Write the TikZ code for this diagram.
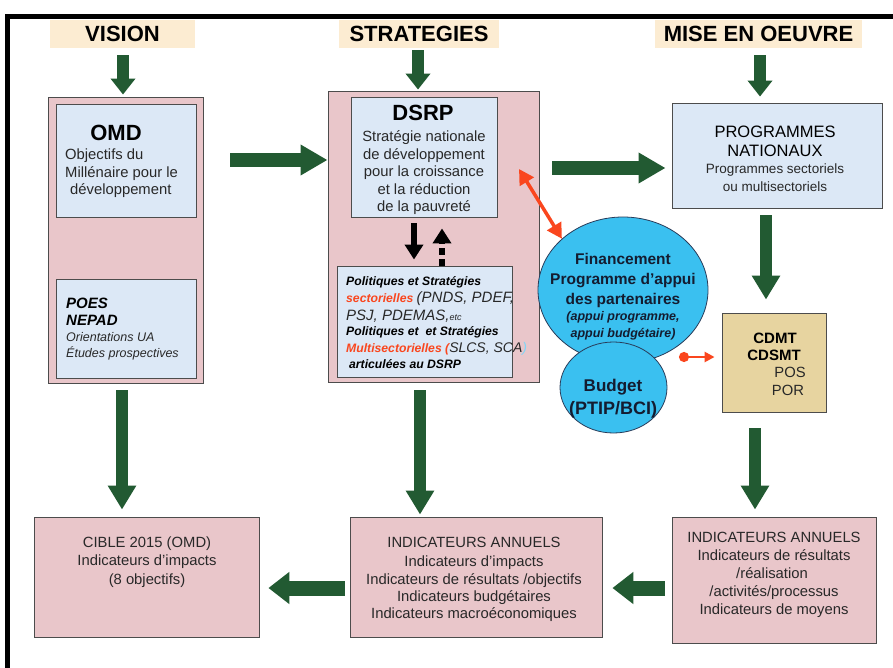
\documentclass[tikz,border=0pt]{standalone}
\usepackage{fontspec}
\setmainfont{Liberation Sans}
\usetikzlibrary{arrows.meta,shapes.geometric,calc}
\definecolor{pinkbox}{RGB}{233,198,202}
\definecolor{bluebox}{RGB}{220,232,246}
\definecolor{cream}{RGB}{252,236,210}
\definecolor{tanbox}{RGB}{231,212,160}
\definecolor{cyanc}{RGB}{58,192,240}
\definecolor{circedge}{RGB}{40,60,90}
\definecolor{garrow}{RGB}{34,90,50}
\definecolor{redc}{RGB}{250,70,30}
\definecolor{txt}{RGB}{40,40,40}
\definecolor{navy}{RGB}{20,28,48}
\newcommand{\myfs}[2]{\fontsize{#1}{#2}\selectfont}
\newcommand{\polbi}{\bfseries\itshape\myfs{12.2}{15}}
\newcommand{\polit}{\mdseries\itshape\myfs{15}{17}}
\newcommand{\politb}{\mdseries\itshape\myfs{14}{17}}
\newcommand{\finf}{\bfseries\myfs{15.5}{18}}
\newcommand{\finit}{\bfseries\itshape\myfs{12.5}{15}}
\tikzset{
 box/.style={draw=black!70, line width=0.9pt, inner sep=0pt, rectangle},
 pinkb/.style={box, fill=pinkbox},
 blueb/.style={box, fill=bluebox},
 tanb/.style={box, fill=tanbox},
 circ/.style={ellipse, draw=circedge, line width=0.8pt, fill=cyanc, inner sep=0pt},
 hdr/.style={fill=cream, inner sep=0pt, font=\bfseries\myfs{22}{24}, text=black},
 ln/.style={inner sep=0pt, anchor=base, text=txt, font=\myfs{14.8}{18}},
 lnw/.style={ln, anchor=base west},
 garrv/.style={draw=garrow, line width=12pt, -{Triangle[width=24pt,length=16pt]}},
 garrv2/.style={draw=garrow, line width=12pt, -{Triangle[width=27pt,length=24pt]}},
 garrh/.style={draw=garrow, line width=14pt, -{Triangle[width=29pt,length=27pt]}},
 garrl/.style={draw=garrow, line width=15pt, -{Triangle[width=31pt,length=21pt]}},
 barr/.style={draw=black, line width=6pt, -{Triangle[width=18pt,length=15pt]}},
}
\begin{document}
\begin{tikzpicture}[x=1pt,y=-1pt]
\useasboundingbox (0,0) rectangle (893,668);
\fill[white] (0,0) rectangle (893,668);
\fill[black] (5,14) rectangle (893,19);
\fill[black] (5,14) rectangle (10,668);

% headers
\node[hdr, minimum width=145pt, minimum height=28pt] (hv) at (122.5,34) {VISION};
\node[hdr, minimum width=160pt, minimum height=28pt] (hs) at (419,34) {STRATEGIES};
\node[hdr, minimum width=207pt, minimum height=28pt] (hm) at (758.5,34) {MISE EN OEUVRE};

% boxes
\node[pinkb, minimum width=155pt, minimum height=286pt] (vis) at (125.5,240) {};
\node[blueb, minimum width=140pt, minimum height=113pt] (omd) at (126.5,160.5) {};
\node[blueb, minimum width=140pt, minimum height=99pt] (poes) at (126.5,328.5) {};
\node[pinkb, minimum width=211pt, minimum height=291pt] (dsrpo) at (433.5,236.5) {};
\node[blueb, minimum width=146pt, minimum height=120pt] (dsrp) at (424,157) {};
\node[blueb, minimum width=175pt, minimum height=111pt] (pol) at (424.5,321.5) {};
\node[blueb, minimum width=210pt, minimum height=105pt] (prog) at (777,155.5) {};
\node[tanb, minimum width=104pt, minimum height=99pt] (cdmt) at (774,362.5) {};
\node[pinkb, minimum width=225pt, minimum height=120pt] (cible) at (146.5,577) {};
\node[pinkb, minimum width=252pt, minimum height=120pt] (mid) at (476,577) {};
\node[pinkb, minimum width=204pt, minimum height=126pt] (rgt) at (774,580) {};
\node[circ, minimum width=170pt, minimum height=146pt] (fin) at (623,290) {};
\node[circ, minimum width=107pt, minimum height=91pt] (bud) at (613.5,387.5) {};

% helper coordinates
\coordinate (xa) at (123,0);
\coordinate (xb) at (418,0);
\coordinate (xc) at (760,0);
\coordinate (xd) at (766,0);
\coordinate (xe) at (122,0);
\coordinate (xf) at (420,0);
\coordinate (xg) at (755,0);
\coordinate (xk) at (414,0);
\coordinate (xl) at (442,0);
\coordinate (ya) at (0,160);
\coordinate (yb) at (0,168);
\coordinate (yc) at (0,588);
\coordinate (ra) at (519,169);
\coordinate (rdot) at (679,357);

% green arrows
\draw[garrv, shorten <=7pt, shorten >=2pt] (xa |- hv.south) -- (xa |- vis.north);
\draw[garrv, shorten <=2pt, shorten >=1pt] (xb |- hs.south) -- (xb |- dsrpo.north);
\draw[garrv, shorten <=7pt, shorten >=6pt] (xc |- hm.south) -- (xc |- prog.north);
\draw[garrh, shorten <=27pt] (vis.east |- ya) -- (dsrpo.west |- ya);
\draw[garrh, shorten <=13pt, shorten >=6pt] (dsrpo.east |- yb) -- (prog.west |- yb);
\draw[garrv2, shorten <=7pt, shorten >=13pt] (xd |- prog.south) -- (xd |- cdmt.north);
\draw[garrv2, shorten <=7pt, shorten >=7pt] (xe |- vis.south) -- (xe |- cible.north);
\draw[garrv2, shorten <=8pt, shorten >=2pt] (xf |- dsrpo.south) -- (xf |- mid.north);
\draw[garrv2, shorten <=16pt, shorten >=7pt] (xg |- cdmt.south) -- (xg |- rgt.north);
\draw[garrl, shorten <=5pt, shorten >=9pt] (mid.west |- yc) -- (cible.east |- yc);
\draw[garrl, shorten <=7pt, shorten >=10pt] (rgt.west |- yc) -- (mid.east |- yc);

% black arrows
\draw[barr, shorten <=6pt, shorten >=6pt] (xk |- dsrp.south) -- (xk |- pol.north);
\draw[barr, dash pattern=on 7pt off 4pt, shorten >=11pt] (xl |- pol.north) -- (xl |- dsrp.south);

% red arrows
\draw[draw=redc, line width=3.5pt, {Triangle[width=16pt,length=15pt]}-{Triangle[width=16pt,length=15pt]}] (fin.140) -- (ra);
\draw[draw=redc, line width=2.5pt, {Circle[length=10pt]}-{Triangle[width=10pt,length=10pt]}, shorten >=7pt] (rdot) -- (rdot -| cdmt.west);

% OMD texts
\node[ln, font=\bfseries\myfs{22}{24}, text=black] (t01) at (116,141) {OMD};
\node[lnw] (t02) at (65,160) {Objectifs du};
\node[lnw] (t03) at (65,178) {Millénaire pour le};
\node[lnw] (t04) at (70,195) {développement};
\node[lnw, font=\bfseries\itshape\myfs{15}{17}, text=black] (t05) at (66,308.5) {POES};
\node[lnw, font=\bfseries\itshape\myfs{15}{17}, text=black] (t06) at (66,325.5) {NEPAD};
\node[lnw, font=\itshape\myfs{12.5}{15}] (t07) at (66,341.5) {Orientations UA};
\node[lnw, font=\itshape\myfs{12.5}{15}] (t08) at (66,357.5) {Études prospectives};

% DSRP texts
\node[ln, font=\bfseries\myfs{22}{24}, text=black] (t10) at (423,121) {DSRP};
\node[ln] (t11) at (424,142) {Stratégie nationale};
\node[ln] (t12) at (424,159.5) {de développement};
\node[ln] (t13) at (424,177) {pour la croissance};
\node[ln] (t14) at (424,194.5) {et la réduction};
\node[ln] (t15) at (424,212) {de la pauvreté};

% Politiques texts
\node[lnw, font=\polbi, text=black] (t20) at (346,285) {Politiques et Stratégies};
\node[lnw, font=\polbi] (t21) at (346,302) {\textcolor{redc}{sectorielles} {\polit (PNDS, PDEF,}};
\node[lnw, font=\polit] (t22) at (346,320) {PSJ, PDEMAS,{\myfs{9}{10}etc}};
\node[lnw, font=\polbi, text=black] (t23) at (346,335) {Politiques et\ \ et Stratégies};
\node[lnw, font=\polbi] (t24) at (346,352) {\textcolor{redc}{Multisectorielles (}{\politb SLCS, SCA\textcolor{cyan!50}{)}}};
\node[lnw, font=\polbi, text=black] (t25) at (349,368) {articulées au DSRP};

% Programmes
\node[ln, font=\myfs{16.5}{18}, text=black] (t30) at (775,138) {PROGRAMMES};
\node[ln, font=\myfs{16.5}{18}, text=black] (t31) at (775,157) {NATIONAUX};
\node[ln, font=\myfs{13.5}{16}] (t32) at (775,174) {Programmes sectoriels};
\node[ln, font=\myfs{13.5}{16}] (t33) at (775,192) {ou multisectoriels};

% Financement
\node[ln, font=\finf, text=navy] (t40) at (623,264) {Financement};
\node[ln, font=\finf, text=navy] (t41) at (623,284) {Programme d’appui};
\node[ln, font=\finf, text=navy] (t42) at (623,304) {des partenaires};
\node[ln, font=\finit, text=navy] (t43) at (623,320) {(appui programme,};
\node[ln, font=\finit, text=navy] (t44) at (623,337) {appui budgétaire)};
\node[ln, font=\bfseries\myfs{17}{20}, text=navy] (t45) at (613,391) {Budget};
\node[ln, font=\bfseries\myfs{18}{20}, text=navy] (t46) at (613,414) {(PTIP/BCI)};

% CDMT
\node[ln, font=\bfseries\myfs{15}{17}, text=black] (t50) at (775,343.5) {CDMT};
\node[ln, font=\bfseries\myfs{15}{17}, text=black] (t51) at (774,360.5) {CDSMT};
\node[ln] (t52) at (790,377) {POS};
\node[ln] (t53) at (788,395) {POR};

% bottom boxes
\node[ln] (t60) at (147,547) {CIBLE 2015 (OMD)};
\node[ln] (t61) at (147,565) {Indicateurs d’impacts};
\node[ln] (t62) at (147,584) {(8 objectifs)};
\node[ln] (t70) at (474,547) {INDICATEURS ANNUELS};
\node[ln] (t71) at (474,566) {Indicateurs d’impacts};
\node[ln] (t72) at (474,584) {Indicateurs de résultats /objectifs};
\node[ln] (t73) at (474,601) {Indicateurs budgétaires};
\node[ln] (t74) at (474,618) {Indicateurs macroéconomiques};
\node[ln] (t80) at (774,542) {INDICATEURS ANNUELS};
\node[ln] (t81) at (774,560) {Indicateurs de résultats};
\node[ln] (t82) at (772,578) {/réalisation};
\node[ln] (t83) at (774,596) {/activités/processus};
\node[ln] (t84) at (774,614) {Indicateurs de moyens};
\end{tikzpicture}
\end{document}
